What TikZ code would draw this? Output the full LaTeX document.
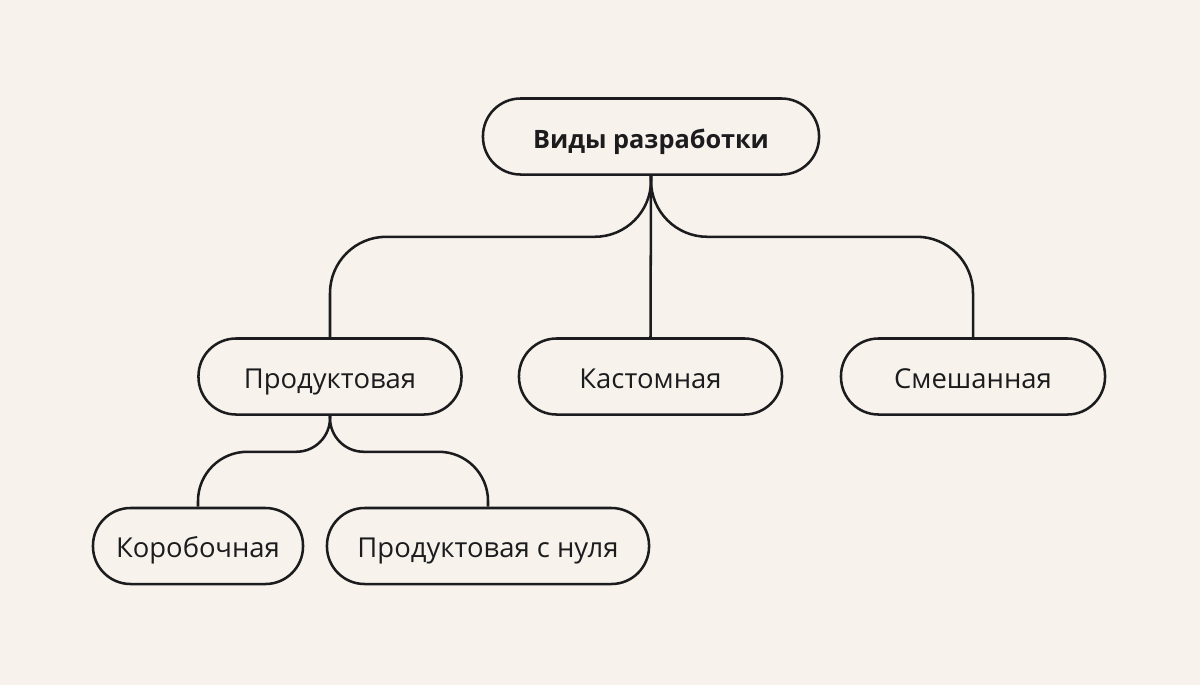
\documentclass[tikz,border=0pt]{standalone}
\usepackage{fontspec}
\setmainfont{Open Sans}

\definecolor{paper}{HTML}{F7F3EC}
\definecolor{ink}{HTML}{1C1C1E}

\begin{document}
\begin{tikzpicture}[x=0.025cm,y=0.025cm,
    pill/.style={draw=ink, line width=1.8pt, fill=paper, text=ink,
      rounded corners=0.94cm, minimum height=1.9cm,
      text height=20pt, text depth=3.6pt,
      font=\fontsize{19.5}{22}\selectfont},
    link/.style={ink, line width=1.8pt}]
  \fill[paper] (0,0) rectangle (1200,-685);
  \useasboundingbox (0,0) rectangle (1200,-685);

  % top level
  \node[pill, minimum width=8.4cm, font=\fontsize{18}{20}\selectfont\bfseries] (root) at (651,-136.5) {Виды разработки};

  % second level
  \node[pill, minimum width=6.575cm] (prod) at (330,-376.5) {Продуктовая};
  \node[pill, minimum width=6.575cm] (custom) at (650.5,-376.5) {Кастомная};
  \node[pill, minimum width=6.6cm] (mixed) at (973,-376.5) {Смешанная};

  % third level
  \node[pill, minimum width=5.25cm] (boxed) at (198,-546) {Коробочная};
  \node[pill, minimum width=8.05cm] (scratch) at (488,-546) {Продуктовая с нуля};

  % links root -> second level
  \draw[link, rounded corners=40pt] (root.south) -- ++(0,-61) -| (prod.north);
  \draw[link] (root.south) -- (custom.north);
  \draw[link, rounded corners=40pt] (root.south) -- ++(0,-61) -| (mixed.north);

  % links prod -> third level
  \draw[link, rounded corners=24pt] (prod.south) -- ++(0,-36) [rounded corners=35pt] -| (boxed.north);
  \draw[link, rounded corners=24pt] (prod.south) -- ++(0,-36) [rounded corners=35pt] -| (scratch.north);
\end{tikzpicture}
\end{document}
